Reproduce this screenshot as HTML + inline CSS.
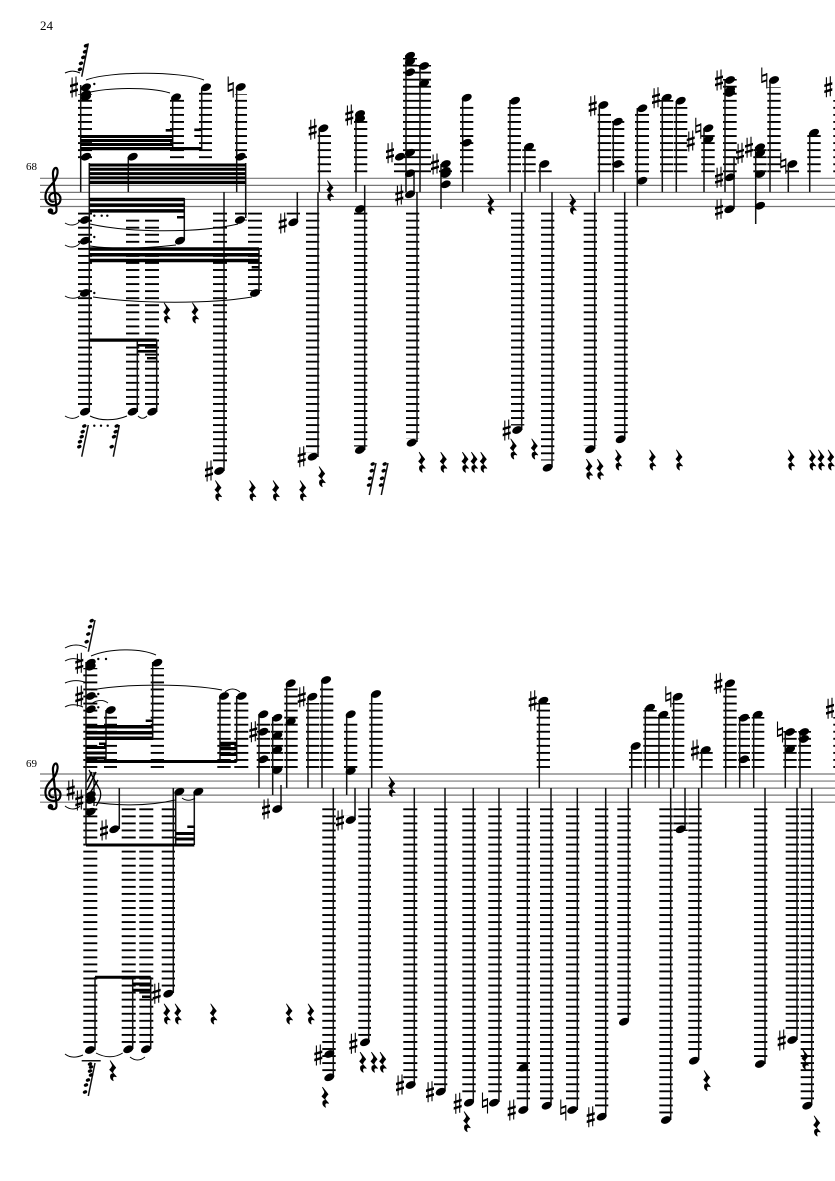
<!DOCTYPE html>
<html><head><meta charset="utf-8"><style>html,body{margin:0;padding:0;background:#fff}svg{display:block}text{font-family:"Liberation Serif",serif;fill:#000}</style></head><body>
<svg xmlns="http://www.w3.org/2000/svg" width="835" height="1181" viewBox="0 0 835 1181">
<defs>
<pattern id="A" patternUnits="userSpaceOnUse" x="0" y="177.4" width="10" height="7.05"><rect width="10" height="1.9" fill="#000"/></pattern>
<pattern id="B" patternUnits="userSpaceOnUse" x="0" y="773.1" width="10" height="7.05"><rect width="10" height="1.9" fill="#000"/></pattern>
<ellipse id="h" rx="5.3" ry="3.5" transform="rotate(-24)"/>
<ellipse id="g" rx="2.3" ry="1.7" transform="rotate(-24)"/>
<g id="s"><path d="M-1.9-9.5V10.5M2-10.5V9.5" stroke="#000" stroke-width="1.1" fill="none"/><path d="M-4-2.2L4-4.6V-2L-4 .4zM-4 3.8L4 1.4V4L-4 6.4z" fill="#000"/></g>
<g id="n"><path d="M-2.5-10.5V5M2.5-5V10.5" stroke="#000" stroke-width="1.1" fill="none"/><path d="M-2.5-3L2.5-4.8V-2.8L-2.5-1zM-2.5 3L2.5 1.2V3.2L-2.5 5z" fill="#000"/></g>
<path id="r" stroke="#000" stroke-width=".8" stroke-linejoin="round" d="M-2.5-10L3-3C1-1 0 1 0 2L3.5 6C1 5-1 6 .5 10C-3 8-3.5 3 1 3L-3-1C-1-3 0-5-.5-6z"/>
<g id="c"><path d="M49.5 211C52 215 57 214 56.5 209L53 175C52.5 170 55 167 56.5 168C59 171 57 179 52 184C47 189 45 193 45.5 198C46 204 51 206 56 205C61 204 62 197 58 194C54 191 48 194 49.5 199C50.5 202 53 202 54 201" fill="none" stroke="#000" stroke-width="2.2"/><circle cx="50.5" cy="211" r="2.8"/></g>
</defs>
<text x="40" y="30" font-size="13">24</text>
<text x="26" y="170" font-size="11">68</text>
<text x="26" y="767" font-size="11">69</text>
<path stroke="#777" stroke-width="1.2" fill="none" d="M40 178.3H835M40 185.35H835M40 192.4H835M40 199.45H835M40 206.5H835M40 774H835M40 781.05H835M40 788.1H835M40 795.15H835M40 802.2H835"/>
<use href="#c"/><use href="#c" y="595.7"/>
<path fill="url(#A)" d="M78 94h14v64.500h-14zM170 98h14v60.500h-14zM199 88h13v70.500h-13zM235 94h12v64.500h-12zM317.700 134h13.300v38.500h-13.300zM354 120h13.300v52.500h-13.300zM403 58h14v114.500h-14zM417 65h14v107.500h-14zM394 163h12v9.500h-12zM439 170h13v2.500h-13zM460 106h13.300v66.500h-13.300zM507.700 107h13.300v65.500h-13.300zM522.300 149h13.400v23.500h-13.400zM538.300 170h13.400v2.500h-13.400zM597.700 113h13.300v59.500h-13.300zM611.700 121h12.600v51.500h-12.600zM635 113h14v59.500h-14zM660 100h13.300v72.500h-13.300zM674 107h13.300v65.500h-13.300zM701.300 135h13.400v37.500h-13.400zM723 79h13.700v93.500h-13.700zM767.300 87h13.400v85.500h-13.400zM753.300 149h13.400v23.500h-13.400zM785.700 170h13.300v2.500h-13.300zM807.300 135h13.400v37.500h-13.400zM833.300 100h5v72.500h-5zM78 212.500h14v193.500h-14zM126 218h13.300v188h-13.300zM145 218h14v188h-14zM213 212.500h14v253h-14zM235 212.500h12v8h-12zM248 212.500h14v78.500h-14zM286.700 212.500h13.300v2h-13.300zM306 212.500h13.300v240h-13.300zM354 212.500h13.300v234h-13.300zM406 212.500h13.300v226h-13.300zM511 212.500h13.300v213h-13.300zM541 212.500h13.300v248h-13.300zM583.700 212.500h13.300v233h-13.300zM614.300 212.500h13.400v224h-13.400z"/>
<path fill="url(#B)" d="M83.300 668h14v100h-14zM150.700 668h13.300v100h-13.300zM104 714h13v54h-13zM217.300 702h13.400v66h-13.400zM234.300 702h14v66h-14zM256.700 719h13.300v49h-13.300zM270.700 722h12.600v46h-12.600zM284.300 688h13.400v80h-13.400zM306 703h13.300v65h-13.300zM320 688h13.300v80h-13.300zM344 723h13.300v45h-13.300zM369.300 703h13.400v65h-13.400zM536.700 703h13.300v65h-13.300zM629 752h13.300v16h-13.300zM643.300 710h13.400v58h-13.400zM656.700 717h13.300v51h-13.300zM671.700 703h12.600v65h-12.600zM699.300 752h13.400v16h-13.400zM723.300 688h13.400v80h-13.400zM738.300 717h11.700v51h-11.700zM751.700 717h12.600v51h-12.600zM783.300 731h13.400v37h-13.400zM798.300 731h12.700v37h-12.700zM833.300 717h5v51h-5zM83.300 808h14v237h-14zM121.700 808h14v237h-14zM139.300 808h14v237h-14zM161.700 808h13.300v182h-13.300zM322.300 808h13.400v265h-13.400zM344 812h13.300v3.500h-13.300zM358.300 808h12.700v228h-12.700zM403.300 808h14v271h-14zM434 808h13.300v278h-13.300zM462.300 808h13.400v289h-13.400zM488.300 808h13.400v289h-13.400zM516.700 808h13.300v296h-13.300zM540 808h13.300v292h-13.300zM566 808h13.300v296h-13.300zM595 808h13.300v303h-13.300zM617.300 808h13.400v208h-13.400zM659.300 808h13.400v307h-13.400zM673.300 808h14.400v23h-14.400zM688.300 808h13.400v247h-13.400zM754 808h13.300v250h-13.300zM785.700 808h13.300v226h-13.300zM800.700 808h13.300v292h-13.300z"/>
<path fill="none" stroke="#111" stroke-width="1.5" d="M80.700 85V192M128.300 157V192M172.700 98V150M201.700 88V150M236.700 88V192M89.300 163V412M184.300 198V240M245.700 163V218M259 248V293M224 192V471M297.300 192V222M318 192V457M319.300 128V192M356 116V192M364.700 185V450M406 55V192M420 66V192M414 173V194M417 192V442M441 164V209M462.700 98V192M510 100V192M525 147V192M540 164V192M521.700 192V430M552 192V467M594.700 192V449M624.700 192V439M599.300 105V192M613.300 122V192M637.300 108V206M662.300 98V192M676.300 101V192M704 128V192M725 80V192M734 158V209M755.700 147V224M770 80V192M788.300 164V192M809.700 133V192M137.300 340V412M156.700 340V412M86 662V845M152.700 662V740M106 710V762M220 696V762M236.700 696V762M119.300 788V829M173.300 788V993M175.700 792V845M194.300 792V845M95 977V1050M132.700 977V1049M150.700 977V1049M259 714V788M272.700 717V795M286.700 683V788M281 785V808M308 697V788M322 680V788M333.300 788V1077M346.700 714V795M355 788V820M368.700 788V1042M371.700 694V788M414.300 788V1085M445 788V1091M473.300 788V1102M499 788V1102M527.300 788V1110M551 788V1105M577.300 788V1110M605.700 788V1116M628.300 788V1021M670.700 788V1120M685 788V829M698.700 788V1060M765 788V1064M797 788V1040M811.700 788V1105M539.300 701V788M631.700 746V788M645.300 708V788M659 715V788M673.700 697V788M701.700 750V788M725.700 683V788M739.700 718V788M753.700 715V788M785.300 732V788M800 732V788M81.700 76.700L88.300 43.300M81.700 456.700L88.300 425M113.300 456.700L119.300 425M369.300 495L376 463M381.300 495L388 463M88.300 651.700L95 620M95 1063L88.300 1096M81.700 1060.700H100.700"/>
<path fill="#000" d="M80.700 135h92v3h-92zM80.700 139h92v3h-92zM80.700 143h92v3h-92zM80.700 147h121v3.200h-121zM165.700 129h7v2.600h-7zM194.300 128.500h7.400v2.600h-7.400zM194.300 135h7.400v2h-7.400zM89.300 163.500h156.400v3h-156.400zM89.300 167.800h156.400v3h-156.400zM89.300 172.100h156.400v3h-156.400zM89.300 176.400h156.400v3h-156.400zM89.300 180.700h156.400v3.300h-156.400zM89.300 197.700h95v3.500h-95zM89.300 203.400h95v3.500h-95zM89.300 209.100h95v3.500h-95zM177 216h7.300v2.500h-7.300zM89.300 247.300h169.700v3.500h-169.700zM89.300 253h169.700v3.500h-169.700zM89.300 258.700h169.700v3.500h-169.700zM251.700 266h7.300v2.500h-7.300zM89.300 338.500h67.400v3.200h-67.400zM137.300 344h19.400v2.600h-19.400zM137.300 350h19.400v2.600h-19.400zM147 357h9.700v2.400h-9.700zM86 725h66.700v3.500h-66.700zM86 731h66.700v3.500h-66.700zM86 736.500h66.700v3.500h-66.700zM145.700 719.500h7v2.500h-7zM99 742.500h7v2.500h-7zM86 746h20v3h-20zM86 751.500h20v3h-20zM86 756.500h20v3h-20zM86 760h150.700v3h-150.700zM220 741.700h16.700v3.300h-16.700zM220 747h16.700v3.300h-16.700zM220 752.500h16.700v3.500h-16.700zM86 843.500h108.300v3h-108.300zM175.700 832h18.600v3h-18.600zM175.700 837.500h18.600v3h-18.600zM187.300 825.500h7v2.500h-7zM95 975.800h55.700v3h-55.700zM132.700 982.500h18v3h-18zM132.700 988.700h18v3h-18zM142 995.500h8.700v2.500h-8.700z"/>
<g>
<use href="#h" x="86" y="87.300"/><use href="#h" x="86" y="94"/><use href="#h" x="86" y="97"/><use href="#h" x="176" y="97.300"/><use href="#h" x="206" y="87.300"/><use href="#h" x="240.700" y="87"/><use href="#h" x="86" y="156.700"/><use href="#h" x="132.700" y="156.700"/><use href="#h" x="240.700" y="156.700"/><use href="#h" x="85" y="220"/><use href="#h" x="240" y="220"/><use href="#h" x="85" y="240.700"/><use href="#h" x="180" y="240.700"/><use href="#h" x="85" y="293"/><use href="#h" x="255" y="293"/><use href="#h" x="85" y="411.700"/><use href="#h" x="132.700" y="411.700"/><use href="#h" x="152.300" y="411.700"/><use href="#h" x="219.300" y="471"/><use href="#h" x="312.700" y="456.700"/><use href="#h" x="360" y="450"/><use href="#h" x="293.300" y="222.300"/><use href="#h" x="323.300" y="128.300"/><use href="#h" x="360" y="114"/><use href="#h" x="360" y="119"/><use href="#h" x="360" y="209"/><use href="#h" x="410" y="55.700"/><use href="#h" x="410" y="61.700"/><use href="#h" x="410" y="72.300"/><use href="#h" x="410" y="152.700"/><use href="#h" x="400" y="156.700"/><use href="#h" x="424" y="66"/><use href="#h" x="424" y="83.300"/><use href="#h" x="410" y="173.300"/><use href="#h" x="410" y="194.300"/><use href="#h" x="445.700" y="164"/><use href="#h" x="445.700" y="171"/><use href="#h" x="445.700" y="174"/><use href="#h" x="445.700" y="184.300"/><use href="#h" x="466.700" y="97.700"/><use href="#h" x="466.700" y="142.700"/><use href="#h" x="515" y="100.700"/><use href="#h" x="529" y="146.700"/><use href="#h" x="544.300" y="164"/><use href="#h" x="411.700" y="442.700"/><use href="#h" x="517.300" y="430"/><use href="#h" x="547.700" y="467.700"/><use href="#h" x="590" y="449.300"/><use href="#h" x="620.700" y="439.300"/><use href="#h" x="603.300" y="105"/><use href="#h" x="617.700" y="121.700"/><use href="#h" x="617.700" y="164"/><use href="#h" x="642.300" y="108.300"/><use href="#h" x="642.300" y="180.700"/><use href="#h" x="666.700" y="97.700"/><use href="#h" x="680.700" y="100.700"/><use href="#h" x="708.300" y="128.300"/><use href="#h" x="708.300" y="139.300"/><use href="#h" x="730" y="80"/><use href="#h" x="730" y="90"/><use href="#h" x="730" y="93"/><use href="#h" x="730" y="177.300"/><use href="#h" x="729.300" y="209.300"/><use href="#h" x="760" y="147.300"/><use href="#h" x="760" y="153.300"/><use href="#h" x="760" y="174"/><use href="#h" x="760" y="205.700"/><use href="#h" x="774" y="80"/><use href="#h" x="792.300" y="164"/><use href="#h" x="814" y="132.700"/>
<use href="#h" x="90.700" y="662.700"/><use href="#h" x="90.700" y="666.700"/><use href="#h" x="90.700" y="696"/><use href="#h" x="90.700" y="709.300"/><use href="#h" x="157.300" y="662.700"/><use href="#h" x="110.700" y="710"/><use href="#h" x="224" y="696"/><use href="#h" x="241.700" y="696"/><use href="#h" x="90.700" y="795"/><use href="#h" x="90.700" y="800"/><use href="#h" x="90.700" y="811.700"/><use href="#h" x="114.300" y="829.300"/><use href="#h" x="179.300" y="791.700"/><use href="#h" x="198.300" y="791.700"/><use href="#h" x="168.300" y="993.700"/><use href="#h" x="90" y="1050"/><use href="#h" x="128.300" y="1049.300"/><use href="#h" x="146" y="1049.300"/><use href="#h" x="263.300" y="714.300"/><use href="#h" x="263.300" y="731.700"/><use href="#h" x="263.300" y="759.300"/><use href="#h" x="277.300" y="717.700"/><use href="#h" x="277.300" y="735.700"/><use href="#h" x="277.300" y="750"/><use href="#h" x="277.300" y="770"/><use href="#h" x="290.700" y="683.300"/><use href="#h" x="290.700" y="721.700"/><use href="#h" x="277.300" y="809"/><use href="#h" x="312.300" y="696.700"/><use href="#h" x="326" y="680"/><use href="#h" x="350.700" y="714.300"/><use href="#h" x="350.700" y="771"/><use href="#h" x="350.700" y="820"/><use href="#h" x="376" y="694"/><use href="#h" x="329.300" y="1077.300"/><use href="#h" x="329.300" y="1054"/><use href="#h" x="365" y="1042.300"/><use href="#h" x="410.700" y="1085"/><use href="#h" x="440.700" y="1091.700"/><use href="#h" x="469" y="1102.700"/><use href="#h" x="494" y="1102.700"/><use href="#h" x="523.300" y="1067.700"/><use href="#h" x="523.300" y="1110"/><use href="#h" x="546.700" y="1105.700"/><use href="#h" x="572.300" y="1110"/><use href="#h" x="601.700" y="1116.700"/><use href="#h" x="624" y="1021.700"/><use href="#h" x="666" y="1120"/><use href="#h" x="694" y="1060.700"/><use href="#h" x="760" y="1064"/><use href="#h" x="792.300" y="1040"/><use href="#h" x="807.300" y="1105.700"/><use href="#h" x="680.700" y="829.300"/><use href="#h" x="543.300" y="700.700"/><use href="#h" x="635.700" y="746"/><use href="#h" x="650" y="707.700"/><use href="#h" x="663.300" y="714.700"/><use href="#h" x="677.700" y="696.700"/><use href="#h" x="705.700" y="750"/><use href="#h" x="730" y="683.300"/><use href="#h" x="744" y="717.700"/><use href="#h" x="744" y="759.300"/><use href="#h" x="757.700" y="714.700"/><use href="#h" x="790" y="732"/><use href="#h" x="790" y="749.300"/><use href="#h" x="804" y="732"/><use href="#h" x="804" y="739"/>
</g>
<g>
<use href="#s" x="74" y="87"/><use href="#s" x="209" y="471"/><use href="#s" x="301.700" y="456.700"/><use href="#s" x="282.700" y="223"/><use href="#s" x="312.700" y="129.300"/><use href="#s" x="349.300" y="115"/><use href="#s" x="390" y="152.700"/><use href="#s" x="399.300" y="195"/><use href="#s" x="435" y="164"/><use href="#s" x="506.700" y="430"/><use href="#s" x="592.700" y="105.700"/><use href="#s" x="656" y="97.700"/><use href="#s" x="690.700" y="141"/><use href="#s" x="719" y="80"/><use href="#s" x="719" y="177.300"/><use href="#s" x="719" y="209.300"/><use href="#s" x="740" y="153.300"/><use href="#s" x="749" y="147.300"/><use href="#s" x="828.300" y="86.700"/>
<use href="#s" x="79.300" y="663.300"/><use href="#s" x="79.300" y="696"/><use href="#s" x="70.700" y="790"/><use href="#s" x="79.300" y="800"/><use href="#s" x="104" y="830"/><use href="#s" x="156.700" y="993.300"/><use href="#s" x="253.300" y="731.700"/><use href="#s" x="266" y="809"/><use href="#s" x="301.700" y="696.700"/><use href="#s" x="340" y="820"/><use href="#s" x="318.300" y="1055"/><use href="#s" x="353.300" y="1043.300"/><use href="#s" x="400" y="1085"/><use href="#s" x="430" y="1091.700"/><use href="#s" x="457.700" y="1103.300"/><use href="#s" x="511.700" y="1110"/><use href="#s" x="590.700" y="1116.700"/><use href="#s" x="781.700" y="1040"/><use href="#s" x="532.700" y="700.700"/><use href="#s" x="695" y="750"/><use href="#s" x="718.300" y="683.300"/><use href="#s" x="830" y="708.300"/>
<use href="#n" x="230.700" y="87"/><use href="#n" x="698.300" y="128.300"/><use href="#n" x="764.300" y="78"/><use href="#n" x="783.300" y="163.300"/><use href="#n" x="485" y="1103"/><use href="#n" x="563.300" y="1110"/><use href="#n" x="668.300" y="696.700"/><use href="#n" x="780" y="732"/>
</g>
<g>
<use href="#r" x="166.700" y="313"/><use href="#r" x="195" y="313"/><use href="#r" x="218" y="490.700"/><use href="#r" x="252.300" y="490.700"/><use href="#r" x="275.700" y="490.700"/><use href="#r" x="302.700" y="490.700"/><use href="#r" x="321.700" y="476.700"/><use href="#r" x="330" y="190.700"/><use href="#r" x="490.700" y="204.300"/><use href="#r" x="572.700" y="204.300"/><use href="#r" x="421.700" y="462.300"/><use href="#r" x="443.300" y="462.300"/><use href="#r" x="465" y="462.300"/><use href="#r" x="474" y="462.300"/><use href="#r" x="483.300" y="462.300"/><use href="#r" x="513.300" y="449"/><use href="#r" x="534.300" y="449"/><use href="#r" x="589" y="469.300"/><use href="#r" x="600" y="469.300"/><use href="#r" x="618.300" y="460"/><use href="#r" x="652.300" y="460"/><use href="#r" x="679" y="460"/><use href="#r" x="791" y="460"/><use href="#r" x="812.300" y="460"/><use href="#r" x="821" y="460"/><use href="#r" x="830.700" y="460"/>
<use href="#r" x="112.700" y="1070.700"/><use href="#r" x="166.700" y="1014"/><use href="#r" x="177.700" y="1014"/><use href="#r" x="213.300" y="1014"/><use href="#r" x="289" y="1014"/><use href="#r" x="310.700" y="1014"/><use href="#r" x="325" y="1097.300"/><use href="#r" x="362.700" y="1062.300"/><use href="#r" x="374" y="1062.300"/><use href="#r" x="382.700" y="1062.300"/><use href="#r" x="466.700" y="1121.700"/><use href="#r" x="706.700" y="1080.700"/><use href="#r" x="805" y="1059.300"/><use href="#r" x="816.700" y="1126"/><use href="#r" x="391.700" y="786.700"/>
</g>
<g>
<use href="#g" x="86" y="45.700"/><use href="#g" x="85" y="51.700"/><use href="#g" x="83.300" y="57.300"/><use href="#g" x="81" y="63.300"/><use href="#g" x="80" y="69.300"/>
<use href="#g" x="84.300" y="426"/><use href="#g" x="82.700" y="431.700"/><use href="#g" x="81.700" y="436.700"/><use href="#g" x="80" y="441.700"/><use href="#g" x="79.300" y="446.700"/>
<use href="#g" x="116.700" y="426"/><use href="#g" x="115.700" y="431.700"/><use href="#g" x="114" y="436.700"/><use href="#g" x="111.700" y="446.700"/>
<use href="#g" x="372.700" y="464"/><use href="#g" x="371.700" y="470.700"/><use href="#g" x="370" y="478.300"/><use href="#g" x="369" y="485"/>
<use href="#g" x="384.700" y="464"/><use href="#g" x="383.700" y="470.700"/><use href="#g" x="382" y="478.300"/><use href="#g" x="381" y="485"/>
<use href="#g" x="91.700" y="620.700"/><use href="#g" x="90" y="626.700"/><use href="#g" x="88.300" y="634"/><use href="#g" x="86.700" y="641.700"/>
<use href="#g" x="90" y="1064"/><use href="#g" x="91" y="1067"/><use href="#g" x="90" y="1071"/><use href="#g" x="91" y="1075"/><use href="#g" x="88" y="1080"/><use href="#g" x="86" y="1085"/><use href="#g" x="85" y="1092"/>
<circle cx="94.300" cy="84" r="1.200"/><circle cx="94.300" cy="215.700" r="1.200"/><circle cx="101.700" cy="215.700" r="1.200"/><circle cx="107.300" cy="215.700" r="1.200"/><circle cx="94.300" cy="237" r="1.200"/><circle cx="94.300" cy="293" r="1.200"/><circle cx="94.300" cy="425.700" r="1.200"/><circle cx="101" cy="425.700" r="1.200"/><circle cx="107.700" cy="425.700" r="1.200"/><circle cx="98.300" cy="659" r="1.200"/><circle cx="106" cy="659" r="1.200"/><circle cx="98.300" cy="694" r="1.200"/><circle cx="98.300" cy="707.300" r="1.200"/>
</g>
<path fill="none" stroke="#000" stroke-width="1" d="M65 73C71 70 76 71 80 73M86 80C110 71 180 71 204 80M86 93C110 87 150 87 170 93M65 223C70 226 76 226 80 221M90 224C130 233 200 233 238 224M65 245C70 248 76 248 80 243M90 246C110 249 140 249 176 245M65 296C70 299 76 299 80 296M93 297C140 304 210 304 252 297M65 416C70 419 75 419 79 416M90 416C100 421 115 421 127 416M138 416C141 419 144 419 147 416M91 656C110 648 140 648 156 655M91 690C130 683 190 684 222 690M225 692C230 688 235 688 240 692M91 704C98 699 104 700 108 703M65 648C72 644 80 644 87 648M65 661C70 658 76 658 80 660M65 683C72 680 80 680 87 683M65 707C70 704 76 704 83 707M65 806C70 810 76 810 80 806M91 802C120 806 150 806 175 800M182 798C186 801 191 801 195 798M65 1054C70 1058 76 1058 83 1055M96 1053C105 1058 115 1058 122.700 1053M130 1057C135 1061 140 1061 145 1057"/>
<path fill="none" stroke="#000" stroke-width="1.300" d="M94 772V806M89 770L100 790C102 796 99 802 96 806"/>
<path fill="none" stroke="#000" stroke-width="1.500" d="M87 790L96 772M87 782L92 772M87 798L98 780"/>
</svg>
</body></html>
